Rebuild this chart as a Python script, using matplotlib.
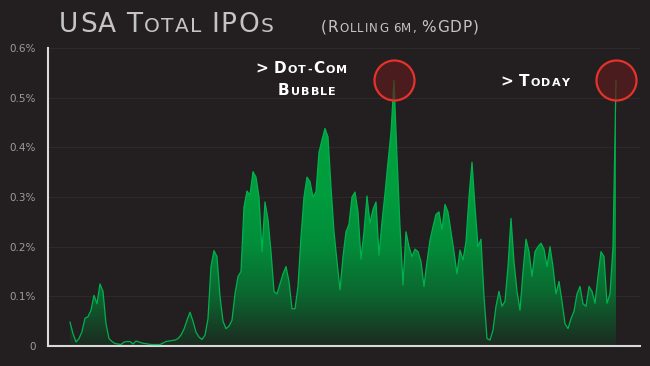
import matplotlib
matplotlib.use('Agg')
import matplotlib.pyplot as plt
import numpy as np
from matplotlib.colors import LinearSegmentedColormap
from matplotlib.patches import Polygon
from matplotlib.transforms import IdentityTransform

# USA total IPOs, rolling 6m, % of GDP (evenly spaced)
ipo_pct_gdp = [
    0.048, 0.025, 0.008, 0.015, 0.029, 0.056, 0.059, 0.072, 0.102, 0.085,
    0.125, 0.110, 0.045, 0.015, 0.009, 0.005, 0.004, 0.003, 0.008, 0.009,
    0.009, 0.004, 0.010, 0.008, 0.006, 0.005, 0.004, 0.003, 0.003, 0.003,
    0.003, 0.006, 0.009, 0.010, 0.011, 0.012, 0.015, 0.022, 0.034, 0.052,
    0.068, 0.050, 0.028, 0.018, 0.013, 0.022, 0.055, 0.160, 0.192, 0.180,
    0.100, 0.050, 0.035, 0.040, 0.052, 0.105, 0.140, 0.150, 0.280, 0.312,
    0.304, 0.351, 0.340, 0.300, 0.190, 0.290, 0.255, 0.190, 0.110, 0.105,
    0.125, 0.145, 0.160, 0.130, 0.075, 0.075, 0.120, 0.220, 0.300, 0.340,
    0.331, 0.300, 0.310, 0.390, 0.415, 0.438, 0.421, 0.320, 0.230, 0.170,
    0.113, 0.180, 0.230, 0.245, 0.300, 0.310, 0.270, 0.175, 0.230, 0.302,
    0.247, 0.275, 0.290, 0.183, 0.250, 0.307, 0.370, 0.430, 0.535, 0.380,
    0.240, 0.123, 0.230, 0.200, 0.180, 0.195, 0.190, 0.170, 0.120, 0.170,
    0.213, 0.240, 0.265, 0.270, 0.234, 0.285, 0.270, 0.230, 0.190, 0.145,
    0.193, 0.173, 0.210, 0.300, 0.370, 0.280, 0.200, 0.215, 0.100, 0.015,
    0.012, 0.032, 0.080, 0.110, 0.080, 0.090, 0.160, 0.257, 0.170, 0.110,
    0.072, 0.150, 0.215, 0.190, 0.140, 0.190, 0.200, 0.207, 0.195, 0.160,
    0.200, 0.160, 0.105, 0.130, 0.090, 0.045, 0.035, 0.055, 0.070, 0.105,
    0.120, 0.085, 0.080, 0.120, 0.110, 0.086, 0.140, 0.190, 0.180, 0.086,
    0.105, 0.200, 0.535,
]
yticks = [0, 0.1, 0.2, 0.3, 0.4, 0.5, 0.6]
ytick_labels = ['0', '0.1%', '0.2%', '0.3%', '0.4%', '0.5%', '0.6%']

BG = '#231f20'

fig = plt.figure(figsize=(6.5, 3.66), dpi=100, facecolor=BG)
ax = fig.add_axes([48 / 650, 20 / 366, 592 / 650, 298 / 366])
ax.set_facecolor(BG)

y = np.array(ipo_pct_gdp)
x = np.arange(len(y))
x0, x1 = -7.33, 190
ax.set_xlim(x0, x1)
ax.set_ylim(0, 0.6)

# gradient fill clipped to the area under the curve
cmap = LinearSegmentedColormap.from_list(
    'ipo', [(0, '#1c2a20'), (0.17, '#0c6630'), (0.34, '#028d3a'),
            (0.5, '#009c3d'), (1, '#00a540')])
grad = np.linspace(0, 1, 256).reshape(-1, 1)
im = ax.imshow(grad, extent=[x0, x1, 0, 0.6], origin='lower', aspect='auto',
               cmap=cmap, zorder=2)
verts = np.column_stack([np.r_[x[0], x, x[-1]], np.r_[0, y, 0]])
area = Polygon(verts, closed=True, facecolor='none', edgecolor='none',
               transform=ax.transData)
ax.add_patch(area)
im.set_clip_path(area)
ax.plot(x, y, color='#00b24e', lw=0.9, zorder=3)

# circles on the two peaks
dotcom_i = int(np.argmax(y[:150]))
today_i = len(y) - 1
ax.scatter([dotcom_i, today_i], [y[dotcom_i], y[today_i]], s=830,
           facecolor=(0.36, 0.11, 0.11, 0.7), edgecolor='#e5322d', lw=1.6,
           zorder=4, clip_on=False)

ax.set_yticks(yticks)
ax.set_yticklabels(ytick_labels)
ax.set_xticks([])
ax.grid(axis='y', color='#2e2a2a', lw=0.8)
ax.set_axisbelow(True)
ax.tick_params(axis='y', length=0, pad=9, labelcolor='#9c9c9c', labelsize=7.5)
for s in ['top', 'right']:
    ax.spines[s].set_visible(False)
for s in ['left', 'bottom']:
    ax.spines[s].set_color('#d9d9d9')
    ax.spines[s].set_linewidth(1.5)


def spaced_text(x, y, pieces, color, weight='normal', track=1.0):
    # fake small caps: each piece has its own size, letters placed one by one
    r = fig.canvas.get_renderer()
    for s, size in pieces:
        for ch in s:
            if ch == ' ':
                x += size * 0.45
                continue
            t = fig.text(x, y, ch, transform=IdentityTransform(), fontsize=size,
                         color=color, fontweight=weight, va='baseline')
            x = t.get_window_extent(r).x1 + track
    return x


H = 366
spaced_text(59, H - 32, [('USA T', 19), ('OTAL', 14.5), (' IPO', 19), ('S', 14.5)],
            '#c4c4c4', track=1.5)
spaced_text(321, H - 32, [('(R', 11), ('OLLING 6M, ', 8.5), ('%GDP)', 11)],
            '#c4c4c4', track=1.0)
spaced_text(255, H - 73, [('> D', 11), ('OT-', 8), ('C', 11), ('OM', 8)],
            'white', weight='bold', track=1.2)
spaced_text(278, H - 95, [('B', 11), ('UBBLE', 8)], 'white', weight='bold', track=1.2)
spaced_text(500, H - 86, [('> T', 11), ('ODAY', 8)], 'white', weight='bold', track=1.2)

fig.savefig('out.png', dpi=100, facecolor=BG)
